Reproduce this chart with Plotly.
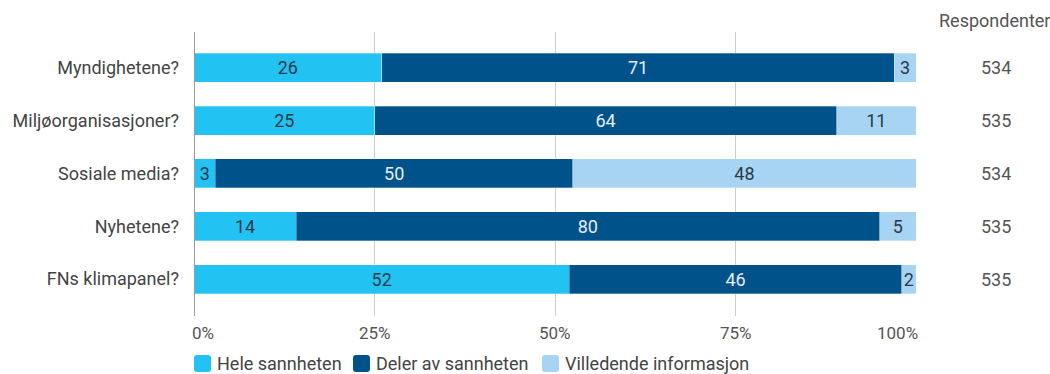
import plotly.graph_objects as go

categories = ["Myndighetene?", "Miljøorganisasjoner?", "Sosiale media?", "Nyhetene?", "FNs klimapanel?"]
hele = [26, 25, 3, 14, 52]
deler = [71, 64, 50, 80, 46]
villedende = [3, 11, 48, 5, 2]
respondenter = [534, 535, 534, 535, 535]
tick_values = [0, 25, 50, 75, 100]
tick_labels = ["0%", "25%", "50%", "75%", "100%"]

series = [
    ("Hele sannheten", hele, "#22c3f2", "#2a3b48"),
    ("Deler av sannheten", deler, "#00528a", "#e6edf3"),
    ("Villedende informasjon", villedende, "#a8d4f4", "#2a3b48"),
]

FONT = "Roboto"
W, H = 1050, 374
ML, MR, MT, MB = 194, 134, 32, 58
PW, PH = W - ML - MR, H - MT - MB


def px_x(px):
    """Pixel column -> paper x."""
    return (px - ML) / PW


def px_y(py):
    """Pixel row (from top) -> paper y."""
    return (H - MB - py) / PH


fig = go.Figure()
for name, vals, color, tcolor in series:
    fig.add_trace(go.Bar(
        y=categories, x=vals, name=name, orientation="h", showlegend=False,
        marker=dict(color=color, line=dict(color="rgba(255,255,255,0.6)", width=0.5)),
        text=[str(v) for v in vals], textposition="inside", insidetextanchor="middle",
        textfont=dict(family=FONT, size=18, color=tcolor),
        constraintext="none", width=0.55,
    ))

# Percent tick labels, the outer two nudged toward the plot interior
for i, (tv, tl) in enumerate(zip(tick_values, tick_labels)):
    if i == 0:
        anchor, shift = "left", -4
    elif i == len(tick_values) - 1:
        anchor, shift = "right", 4
    else:
        anchor, shift = "center", 0
    fig.add_annotation(text=tl, xref="x", yref="paper", x=tv, y=px_y(333), xshift=shift,
                       xanchor=anchor, yanchor="middle", showarrow=False,
                       font=dict(family=FONT, size=17, color="#555555"))

# Respondent counts column to the right of the bars
fig.add_annotation(text="Respondenter", xref="paper", yref="paper", x=px_x(994), y=px_y(20),
                   xanchor="center", yanchor="middle", showarrow=False,
                   font=dict(family=FONT, size=18, color="#555555"))
for cat, n in zip(categories, respondenter):
    fig.add_annotation(text=str(n), xref="paper", yref="y", x=px_x(996), y=cat,
                       xanchor="center", yanchor="middle", showarrow=False,
                       font=dict(family=FONT, size=18, color="#555555"))

# Legend row: rounded swatch + label per series
legend_swatch_left = [194, 353, 542]
legend_y = 363.5
r, s = 3, 17
rounded = (f"M {r},0 L {s - r},0 Q {s},0 {s},{r} L {s},{s - r} Q {s},{s} {s - r},{s} "
           f"L {r},{s} Q 0,{s} 0,{s - r} L 0,{r} Q 0,0 {r},0 Z")
shapes = [dict(type="line", xref="x", yref="paper", x0=0, x1=0, y0=0, y1=1,
               line=dict(color="#999999", width=2))]
for (name, _, color, _), left in zip(series, legend_swatch_left):
    shapes.append(dict(type="path", xref="paper", yref="paper",
                       xsizemode="pixel", ysizemode="pixel",
                       xanchor=px_x(left), yanchor=px_y(legend_y + s / 2),
                       path=rounded, fillcolor=color, line=dict(width=0)))
    fig.add_annotation(text=name, xref="paper", yref="paper", x=px_x(left + 21), y=px_y(legend_y),
                       xanchor="left", yanchor="middle", showarrow=False,
                       font=dict(family=FONT, size=18, color="#444444"))

fig.update_layout(
    barmode="stack", barnorm="percent",
    width=W, height=H,
    margin=dict(l=ML, r=MR, t=MT, b=MB, autoexpand=False),
    plot_bgcolor="white", paper_bgcolor="white",
    font=dict(family=FONT, size=18, color="#555555"),
    showlegend=False,
    xaxis=dict(range=[0, 100], tickmode="array", tickvals=tick_values,
               showticklabels=False,
               showgrid=True, gridcolor="#cccccc", gridwidth=1, zeroline=False,
               showline=False, ticks=""),
    yaxis=dict(range=[4.70, -0.68], showgrid=False, ticks="", ticklabelstandoff=14,
               tickfont=dict(family=FONT, size=18, color="#444444"), showline=False),
    shapes=shapes,
)

fig.write_html("out.html")
